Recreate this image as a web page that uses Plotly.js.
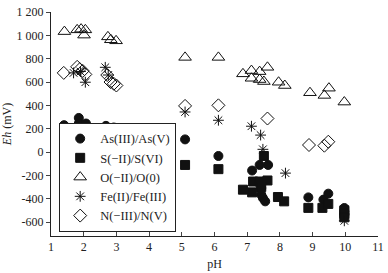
<!DOCTYPE html>
<html><head><meta charset="utf-8">
<script src="https://cdn.plot.ly/plotly-3.0.1.min.js"></script>
<style>html,body{margin:0;padding:0;background:#fff}#c{width:388px;height:273px}</style>
</head><body><div id="c"></div>
<script>
const seriesNames = ["As(III)/As(V)", "S(−II)/S(VI)", "O(−II)/O(0)", "Fe(II)/Fe(III)", "N(−III)/N(V)"];

const asPH = [1.4,1.85,1.85,2.07,2.68,2.8,2.92,5.1,6.12,7.15,7.38,7.64,7.43,7.43,7.48,7.55,8.87,9.33,9.48,9.97,9.97,9.97];
const asEh = [230,292,244,244,224,200,210,108,-34,-159,-111,-111,-309,-366,-394,-423,-389,-408,-357,-480,-510,-540];

const sPH = [1.4,1.85,1.95,2.05,2.66,2.8,2.92,5.1,6.12,7.51,7.18,7.38,7.62,6.87,7.15,7.43,7.94,8.13,8.87,9.3,9.48,9.97,9.97,9.97];
const sEh = [151,173,170,139,94,66,66,-111,-147,-34,-253,-253,-244,-323,-346,-300,-386,-423,-479,-479,-445,-500,-530,-560];

const oPH = [1.41,1.80,1.92,2.05,2.01,2.74,2.83,2.99,5.10,6.12,6.87,7.13,7.38,7.62,7.13,7.38,7.51,7.96,8.15,8.92,9.36,9.50,9.97];
const oEh = [1032,1047,1053,1047,1002,987,962,953,811,811,670,698,689,726,632,621,604,598,570,508,485,547,428];

const fePH = [1.69,2.05,1.9,2.66,2.75,5.1,6.12,7.13,7.41,7.48,8.17,9.97];
const feEh = [678,598,690,726,660,343,272,221,145,23,-181,-590];

const nPH = [1.39,1.80,1.88,1.97,2.05,2.72,2.82,2.92,3.0,5.10,6.12,7.62,8.89,9.36,9.48];
const nEh = [678,730,710,695,665,660,600,585,570,395,400,287,60,54,88];

const yTickVals = [-600,-400,-200,0,200,400,600,800,1000,1200];
const yTickText = ["-600","-400","-200","0","200","400","600","800","1 000","1 200"];
const xTickVals = [1,2,3,4,5,6,7,8,9,10,11];

const F = "Liberation Serif, Times New Roman, serif";
const mk = (sym, size) => ({symbol: sym, size: size, color: "#111", line: {color: "#111", width: 1}});

const traces = [
  {x: asPH, y: asEh, name: seriesNames[0], marker: mk("circle", 9)},
  {x: sPH, y: sEh, name: seriesNames[1], marker: mk("square", 9)},
  {x: oPH, y: oEh, name: seriesNames[2], marker: mk("triangle-up-open", 11)},
  {x: fePH, y: feEh, name: seriesNames[3], marker: mk("asterisk-open", 9)},
  {x: nPH, y: nEh, name: seriesNames[4], marker: mk("diamond-open", 10)}
].map(t => Object.assign({type: "scatter", mode: "markers", cliponaxis: false}, t));

const layout = {
  width: 388, height: 273,
  margin: {l: 51, r: 10, t: 12, b: 37},
  paper_bgcolor: "#fff", plot_bgcolor: "#fff",
  font: {family: F, size: 12, color: "#222"},
  showlegend: true,
  legend: {x: 0.025, y: 0.018, xanchor: "left", yanchor: "bottom",
    bordercolor: "#222", borderwidth: 1, bgcolor: "#fff", itemwidth: 30,
    font: {family: F, size: 12.5, color: "#222"}, tracegroupgap: 0},
  xaxis: {range: [1, 11], tickvals: xTickVals, ticks: "inside", ticklen: 4,
    showline: true, linecolor: "#222", linewidth: 1, showgrid: false, zeroline: false,
    tickfont: {family: F, size: 12}, title: {text: "pH", font: {family: F, size: 12}, standoff: 6}},
  yaxis: {range: [-720, 1200], tickvals: yTickVals, ticktext: yTickText, ticks: "outside", ticklen: 4,
    showline: true, linecolor: "#222", linewidth: 1, showgrid: false, zeroline: false,
    tickfont: {family: F, size: 12}, title: {text: "<i>Eh</i> (mV)", font: {family: F, size: 12}, standoff: 4}}
};
Plotly.newPlot("c", traces, layout, {displayModeBar: false, staticPlot: true});
</script></body></html>
